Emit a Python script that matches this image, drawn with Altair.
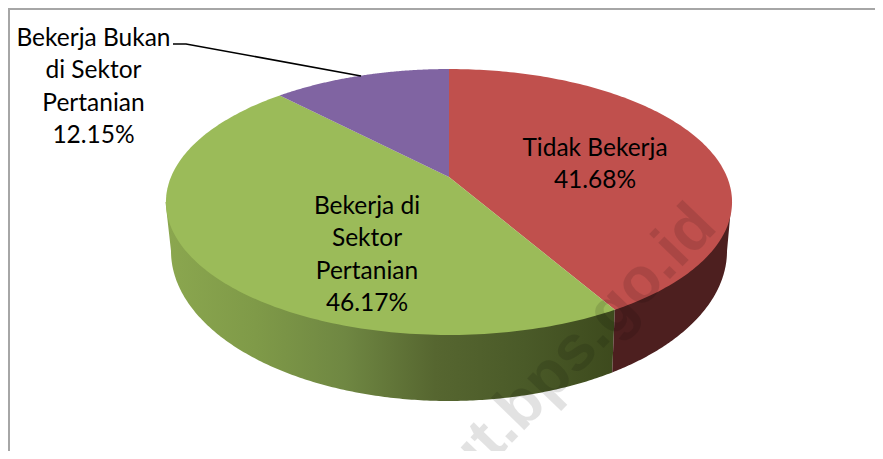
import numpy as np
import altair as alt

categories = ["Tidak Bekerja", "Bekerja di Sektor Pertanian", "Bekerja Bukan di Sektor Pertanian"]
shares = [41.68, 46.17, 12.15]
label_lines = ["Tidak Bekerja\n41.68%", "Bekerja di\nSektor\nPertanian\n46.17%", "Bekerja Bukan\ndi Sektor\nPertanian\n12.15%"]
top_colors = ["#C0504D", "#9BBB59", "#8064A2"]
watermark = "ut.bps.go.id"

# pixel layout of the 3-D pie
AX, APEX_Y, P, C, Q = 449.0, 177.0, 95.0, -0.188, 278.0      # perspective circle -> screen
TOP_C, TOP_A, TOP_B = (448.5, 202.0), 283.0, 133.0           # top ellipse
BOT_C, BOT_A, BOT_B = (449.0, 251.0), 278.0, 150.0           # bottom ellipse


def rim(theta):
    X, Y = np.sin(theta), -np.cos(theta)
    den = C * Y + 1
    return AX + Q * X / den, (P * Y + APEX_Y) / den


def poly(name, pts):
    pts = [[float(a), float(b)] for a, b in pts]
    pts.append(pts[0])
    return {"type": "Feature", "properties": {"name": name},
            "geometry": {"type": "Polygon", "coordinates": [pts]}}


edges = np.cumsum([0] + shares) / 100 * 2 * np.pi
slices = []
for name, a, b in zip(categories, edges[:-1], edges[1:]):
    arc = [rim(t) for t in np.linspace(a, b, 160)]
    slices.append(poly(name, [(AX, APEX_Y)] + arc))

# side walls
sx, sy = rim(edges[1])
phi_s = np.arctan2((sy - TOP_C[1]) / TOP_B, (sx - TOP_C[0]) / TOP_A)


def bot(phi):
    return BOT_C[0] + BOT_A * np.cos(phi), BOT_C[1] + BOT_B * np.sin(phi)


green_wall = poly("green", [(sx, sy), (TOP_C[0] - TOP_A, TOP_C[1])]
                  + [bot(p) for p in np.linspace(np.pi, phi_s, 200)])
red_wall = poly("red", [(sx, sy)] + [bot(p) for p in np.linspace(phi_s, 0, 100)]
                + [(TOP_C[0] + TOP_A, TOP_C[1])])

projection = alt.Projection(type="identity", scale=1, translate=[-8, -8])

green_grad = alt.LinearGradient(
    gradient="linear", x1=0, y1=0, x2=1, y2=0,
    stops=[alt.GradientStop(offset=0, color="#8BA74F"),
           alt.GradientStop(offset=0.2, color="#7F9A48"),
           alt.GradientStop(offset=0.4, color="#6F8742"),
           alt.GradientStop(offset=0.6, color="#566630"),
           alt.GradientStop(offset=0.8, color="#4A5A28"),
           alt.GradientStop(offset=1, color="#3D4A1D")])

frame = alt.Chart(alt.Data(values=[{"type": "Feature", "properties": {}, "geometry": {
    "type": "LineString", "coordinates": [[9, 459], [9, 9], [883, 9]]}}])
).mark_geoshape(filled=False, stroke="#A6A6A6", strokeWidth=2)

wall_g = alt.Chart(alt.Data(values=[green_wall])).mark_geoshape(fill=green_grad, stroke=None)
wall_r = alt.Chart(alt.Data(values=[red_wall])).mark_geoshape(fill="#4D1F1F", stroke=None)

top = alt.Chart(alt.Data(values=slices)).mark_geoshape(stroke=None).encode(
    color=alt.Color("properties.name:N",
                    scale=alt.Scale(domain=categories, range=top_colors), legend=None))

label_x = [595, 367, 93.5]
label_y = [148.5, 206.5, 38.5]
label_rows = [{"t": t, "lon": x, "lat": y} for t, x, y in zip(label_lines, label_x, label_y)]
labels = alt.Chart(alt.Data(values=label_rows)).mark_text(
    font="Lato", fontSize=24.5, color="#000000", lineBreak="\n", lineHeight=32.5,
    align="center", baseline="middle").encode(
    longitude="lon:Q", latitude="lat:Q", text="t:N")

leader = alt.Chart(alt.Data(values=[{"type": "Feature", "properties": {}, "geometry": {
    "type": "LineString", "coordinates": [[173, 44], [186, 44], [361, 76]]}}])
).mark_geoshape(filled=False, stroke="#000000", strokeWidth=1.6)

wm = alt.Chart(alt.Data(values=[{"t": watermark, "lon": 593, "lat": 359}])).mark_text(
    font="Liberation Sans", fontWeight="bold", fontSize=64, angle=314, color="#000000",
    opacity=0.11, align="center", baseline="alphabetic").encode(
    longitude="lon:Q", latitude="lat:Q", text="t:N")

chart = alt.layer(frame, wall_g, wall_r, top, labels, leader, wm, projection=projection).properties(
    width=867, height=443, padding=0, background="#FFFFFF",
    view=alt.ViewConfig(stroke=None)
)

chart.save("out.html", embed_options={"renderer": "svg", "actions": False})
